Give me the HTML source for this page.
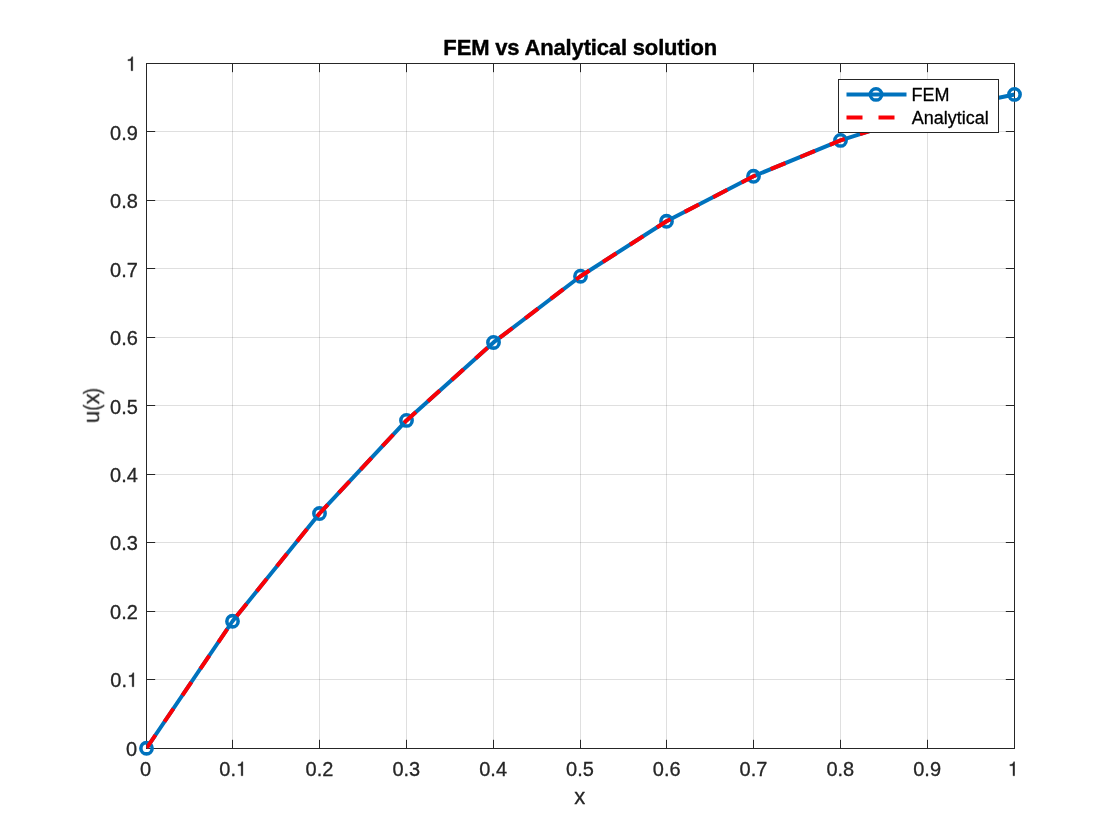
<!DOCTYPE html>
<html><head><meta charset="utf-8"><title>FEM vs Analytical solution</title>
<style>html,body{margin:0;padding:0;background:#fff;}body{width:1120px;height:840px;overflow:hidden;}svg{display:block;}text{font-family:"Liberation Sans",sans-serif;stroke-width:0.3px;stroke-linejoin:round;}.t1{stroke:#262626;}.t0{stroke:#000;}</style></head><body>
<svg width="1120" height="840" viewBox="0 0 1120 840">
<rect x="0" y="0" width="1120" height="840" fill="#ffffff"/>
<defs><filter id="gs" x="0" y="0" width="1120" height="840" filterUnits="userSpaceOnUse" color-interpolation-filters="sRGB"><feOffset dx="0" dy="0"/></filter><clipPath id="ax"><rect x="146.5" y="63.5" width="868" height="685"/></clipPath></defs>
<path d="M146.5 63.5V748.5M232.5 63.5V748.5M319.5 63.5V748.5M406.5 63.5V748.5M493.5 63.5V748.5M580.5 63.5V748.5M666.5 63.5V748.5M753.5 63.5V748.5M840.5 63.5V748.5M927.5 63.5V748.5M1014.5 63.5V748.5" stroke="#262626" stroke-opacity="0.15" stroke-width="1" fill="none"/>
<path d="M146.5 63.5H1014.5M146.5 131.5H1014.5M146.5 200.5H1014.5M146.5 268.5H1014.5M146.5 337.5H1014.5M146.5 405.5H1014.5M146.5 474.5H1014.5M146.5 542.5H1014.5M146.5 611.5H1014.5M146.5 679.5H1014.5M146.5 748.5H1014.5" stroke="#262626" stroke-opacity="0.15" stroke-width="1" fill="none"/>
<path d="M232.5 748.5V739.8M232.5 63.5V72.2M319.5 748.5V739.8M319.5 63.5V72.2M406.5 748.5V739.8M406.5 63.5V72.2M493.5 748.5V739.8M493.5 63.5V72.2M580.5 748.5V739.8M580.5 63.5V72.2M666.5 748.5V739.8M666.5 63.5V72.2M753.5 748.5V739.8M753.5 63.5V72.2M840.5 748.5V739.8M840.5 63.5V72.2M927.5 748.5V739.8M927.5 63.5V72.2M146.5 131.5H155.2M1014.5 131.5H1005.8M146.5 200.5H155.2M1014.5 200.5H1005.8M146.5 268.5H155.2M1014.5 268.5H1005.8M146.5 337.5H155.2M1014.5 337.5H1005.8M146.5 405.5H155.2M1014.5 405.5H1005.8M146.5 474.5H155.2M1014.5 474.5H1005.8M146.5 542.5H155.2M1014.5 542.5H1005.8M146.5 611.5H155.2M1014.5 611.5H1005.8M146.5 679.5H155.2M1014.5 679.5H1005.8" stroke="#262626" stroke-width="1" fill="none"/>
<rect x="146.5" y="63.5" width="868" height="685" fill="none" stroke="#262626" stroke-width="1"/>
<g clip-path="url(#ax)">
<polyline points="146.50,748.25 232.50,621.25 319.50,513.50 406.50,420.41 493.50,342.46 580.50,276.22 666.50,221.28 753.50,176.27 840.50,140.38 927.50,112.57 1014.50,94.42" fill="none" stroke="#0072BD" stroke-width="4" stroke-linejoin="round"/>
</g>
<circle cx="146.50" cy="748.25" r="5.65" fill="none" stroke="#0072BD" stroke-width="3.55"/>
<circle cx="232.50" cy="621.25" r="5.65" fill="none" stroke="#0072BD" stroke-width="3.55"/>
<circle cx="319.50" cy="513.50" r="5.65" fill="none" stroke="#0072BD" stroke-width="3.55"/>
<circle cx="406.50" cy="420.41" r="5.65" fill="none" stroke="#0072BD" stroke-width="3.55"/>
<circle cx="493.50" cy="342.46" r="5.65" fill="none" stroke="#0072BD" stroke-width="3.55"/>
<circle cx="580.50" cy="276.22" r="5.65" fill="none" stroke="#0072BD" stroke-width="3.55"/>
<circle cx="666.50" cy="221.28" r="5.65" fill="none" stroke="#0072BD" stroke-width="3.55"/>
<circle cx="753.50" cy="176.27" r="5.65" fill="none" stroke="#0072BD" stroke-width="3.55"/>
<circle cx="840.50" cy="140.38" r="5.65" fill="none" stroke="#0072BD" stroke-width="3.55"/>
<circle cx="927.50" cy="112.57" r="5.65" fill="none" stroke="#0072BD" stroke-width="3.55"/>
<circle cx="1014.50" cy="94.42" r="5.65" fill="none" stroke="#0072BD" stroke-width="3.55"/>
<g clip-path="url(#ax)">
<polyline points="146.50,748.25 232.50,621.25 319.50,513.50 406.50,420.41 493.50,342.46 580.50,276.22 666.50,221.28 753.50,176.27 840.50,140.38 927.50,112.57" fill="none" stroke="#FA0005" stroke-width="4" stroke-dasharray="16 16" stroke-linejoin="round"/>
</g>
<g filter="url(#gs)">
<text class="t1" transform="translate(145.60 775.75) scale(1 1.022)" font-size="20" fill="#262626" text-anchor="middle">0</text>
<text class="t1" transform="translate(137.10 755.75) scale(1 1.022)" font-size="20" fill="#262626" text-anchor="end">0</text>
<text class="t1" transform="translate(219.28 775.75) scale(1 1.022)" font-size="20" fill="#262626" text-anchor="start">0.</text>
<path transform="translate(235.96 775.75) scale(0.0200 -0.0198)" d="M259 0L259 505L102 505L102 568C237 586 261 602 291 709L347 709L347 0Z" fill="#262626" stroke="#262626" stroke-width="15" stroke-linejoin="round"/>
<text class="t1" transform="translate(110.28 686.75) scale(1 1.022)" font-size="20" fill="#262626" text-anchor="start">0.</text>
<path transform="translate(126.96 686.75) scale(0.0200 -0.0198)" d="M259 0L259 505L102 505L102 568C237 586 261 602 291 709L347 709L347 0Z" fill="#262626" stroke="#262626" stroke-width="15" stroke-linejoin="round"/>
<text class="t1" transform="translate(319.50 775.75) scale(1 1.022)" font-size="20" fill="#262626" text-anchor="middle">0.2</text>
<text class="t1" transform="translate(137.85 618.75) scale(1 1.022)" font-size="20" fill="#262626" text-anchor="end">0.2</text>
<text class="t1" transform="translate(406.30 775.75) scale(1 1.022)" font-size="20" fill="#262626" text-anchor="middle">0.3</text>
<text class="t1" transform="translate(137.85 549.75) scale(1 1.022)" font-size="20" fill="#262626" text-anchor="end">0.3</text>
<text class="t1" transform="translate(493.10 775.75) scale(1 1.022)" font-size="20" fill="#262626" text-anchor="middle">0.4</text>
<text class="t1" transform="translate(137.85 481.75) scale(1 1.022)" font-size="20" fill="#262626" text-anchor="end">0.4</text>
<text class="t1" transform="translate(579.90 775.75) scale(1 1.022)" font-size="20" fill="#262626" text-anchor="middle">0.5</text>
<text class="t1" transform="translate(137.85 413.75) scale(1 1.022)" font-size="20" fill="#262626" text-anchor="end">0.5</text>
<text class="t1" transform="translate(666.70 775.75) scale(1 1.022)" font-size="20" fill="#262626" text-anchor="middle">0.6</text>
<text class="t1" transform="translate(137.85 344.75) scale(1 1.022)" font-size="20" fill="#262626" text-anchor="end">0.6</text>
<text class="t1" transform="translate(753.50 775.75) scale(1 1.022)" font-size="20" fill="#262626" text-anchor="middle">0.7</text>
<text class="t1" transform="translate(137.85 276.75) scale(1 1.022)" font-size="20" fill="#262626" text-anchor="end">0.7</text>
<text class="t1" transform="translate(840.30 775.75) scale(1 1.022)" font-size="20" fill="#262626" text-anchor="middle">0.8</text>
<text class="t1" transform="translate(137.85 207.75) scale(1 1.022)" font-size="20" fill="#262626" text-anchor="end">0.8</text>
<text class="t1" transform="translate(927.10 775.75) scale(1 1.022)" font-size="20" fill="#262626" text-anchor="middle">0.9</text>
<text class="t1" transform="translate(137.85 139.75) scale(1 1.022)" font-size="20" fill="#262626" text-anchor="end">0.9</text>
<path transform="translate(1007.80 775.75) scale(0.0200 -0.0198)" d="M259 0L259 505L102 505L102 568C237 586 261 602 291 709L347 709L347 0Z" fill="#262626" stroke="#262626" stroke-width="15" stroke-linejoin="round"/>
<path transform="translate(125.86 70.75) scale(0.0200 -0.0198)" d="M259 0L259 505L102 505L102 568C237 586 261 602 291 709L347 709L347 0Z" fill="#262626" stroke="#262626" stroke-width="15" stroke-linejoin="round"/>
<text class="t1" transform="translate(579.80 804.00) scale(1 1)" font-size="22" fill="#262626" text-anchor="middle">x</text>
<g class="t1" transform="translate(99.1 421.6) rotate(-90)" font-size="22" fill="#262626" stroke="#262626"><text x="-1.43" y="0">u</text><text transform="translate(11.08 0) scale(0.82 1)">(</text><text x="17.26" y="0">x</text><text transform="translate(27.5 0) scale(0.82 1)">)</text></g>
<text class="t0" transform="translate(580.20 54.50) scale(1 1.04)" font-size="22" fill="#000" text-anchor="middle" font-weight="bold" letter-spacing="-0.16" style="stroke-width:0.4px">FEM vs Analytical solution</text>
</g>
<rect x="838.5" y="79.5" width="160" height="53" fill="#fff" stroke="#262626" stroke-width="1"/>
<path d="M846.5 94.4H906.5" stroke="#0072BD" stroke-width="4" fill="none"/>
<circle cx="876" cy="94.4" r="5.65" fill="none" stroke="#0072BD" stroke-width="3.55"/>
<path d="M846.5 117.5H906.5" stroke="#FA0005" stroke-width="4" stroke-dasharray="16 16" fill="none"/>
<g filter="url(#gs)">
<text class="t0" transform="translate(911.50 100.75) scale(1 1.035)" font-size="18" fill="#000" text-anchor="start">FEM</text>
<text class="t0" transform="translate(911.80 123.75) scale(1 1.035)" font-size="18" fill="#000" text-anchor="start">Analytical</text>
</g>
</svg></body></html>
